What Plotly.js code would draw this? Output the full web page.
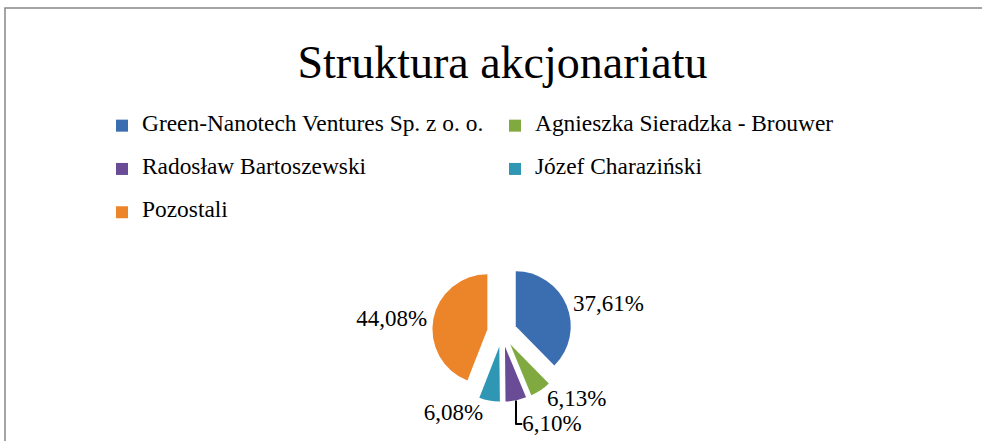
<!DOCTYPE html>
<html>
<head>
<meta charset="utf-8">
<script src="https://cdn.plot.ly/plotly-3.0.1.min.js"></script>
<style>html,body{margin:0;padding:0;background:#fff;}#chart{width:982px;height:441px;}</style>
</head>
<body>
<div id="chart"></div>
<script>
const titleText = 'Struktura akcjonariatu';
const labels = [
  'Green-Nanotech Ventures Sp. z o. o.',
  'Agnieszka Sieradzka - Brouwer',
  'Radosław Bartoszewski',
  'Józef Charaziński',
  'Pozostali'
];
const values = [37.61, 6.13, 6.10, 6.08, 44.08];
const colors = ['#3B6DB1', '#80A940', '#6A4B95', '#2F97B3', '#EC842A'];

const W = 982, H = 441;
const cx = 502, cy = 332, r = 55, pull = 0.27;
const half = r * (1 + pull);
const SERIF = 'Liberation Serif, Times New Roman, serif';

const legendLabels = labels.map(l => '<span style="font-size:23.4px;baseline-shift:7px">' + l + '</span>');

const trace = {
  type: 'pie',
  labels: legendLabels,
  values: values,
  sort: false,
  direction: 'clockwise',
  rotation: 0,
  pull: pull,
  marker: {colors: colors, line: {width: 0}},
  textposition: 'outside',
  texttemplate: '%{percent:.2%}',
  textfont: {family: SERIF, size: 23, color: '#000'},
  outsidetextfont: {family: SERIF, size: 23, color: '#000'},
  hoverinfo: 'none',
  automargin: false,
  domain: {
    x: [(cx - half) / W, (cx + half) / W],
    y: [(H - cy - half) / H, (H - cy + half) / H]
  }
};

const layout = {
  width: W, height: H,
  margin: {l: 0, r: 0, t: 0, b: 0},
  paper_bgcolor: '#fff',
  font: {family: SERIF, color: '#000'},
  separators: ', ',
  title: {
    text: titleText,
    font: {family: SERIF, size: 46, color: '#000'},
    xref: 'container', yref: 'container',
    x: 502.5 / W, xanchor: 'center',
    y: 1 - 62 / H, yanchor: 'middle'
  },
  showlegend: true,
  legend: {
    orientation: 'h',
    x: 102 / W, xanchor: 'left',
    y: 1 - 99 / H, yanchor: 'top',
    entrywidth: 348,
    font: {family: SERIF, size: 31, color: '#000'},
    bgcolor: 'rgba(0,0,0,0)'
  },
  shapes: [{
    type: 'rect', xref: 'paper', yref: 'paper',
    x0: 5 / W, x1: 1.05, y0: -0.05, y1: 1 - 8 / H,
    line: {color: '#878787', width: 1.5}
  }]
};

Plotly.newPlot('chart', [trace], layout, {displayModeBar: false, staticPlot: true});
</script>
</body>
</html>
